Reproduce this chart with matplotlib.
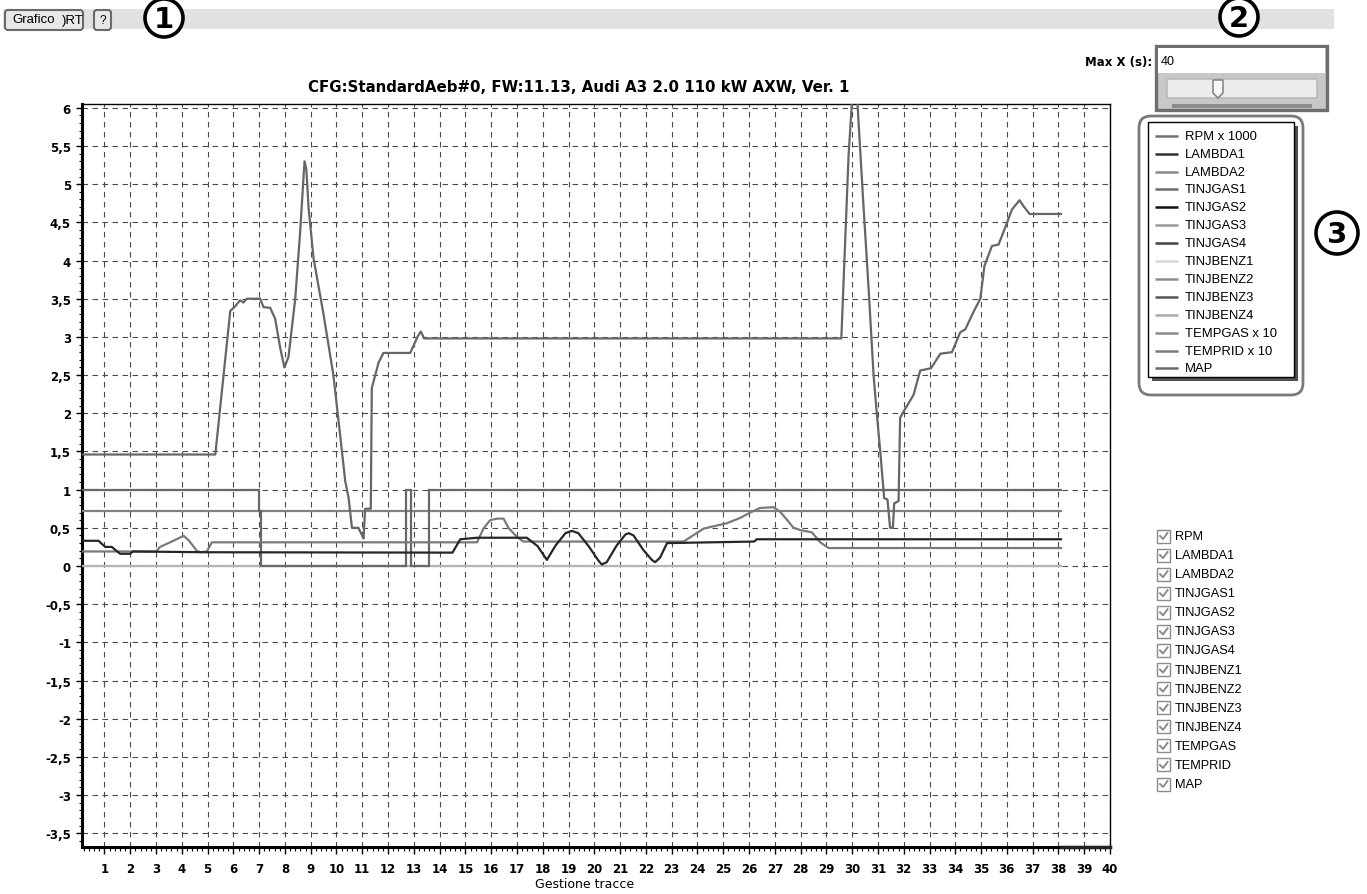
import matplotlib
matplotlib.use('Agg')
import matplotlib.pyplot as plt
from matplotlib.patches import FancyBboxPatch, Rectangle, Circle, Polygon
from matplotlib.ticker import MultipleLocator, FixedLocator
import numpy as np

# ---------------- data ----------------
title = "CFG:StandardAeb#0, FW:11.13, Audi A3 2.0 110 kW AXW, Ver. 1"
xlabel = "Gestione tracce"

xtick_values = list(range(1, 41))
ytick_values = [-3.5, -3, -2.5, -2, -1.5, -1, -0.5, 0, 0.5, 1, 1.5, 2, 2.5, 3, 3.5, 4, 4.5, 5, 5.5, 6]
ytick_labels = ["-3,5", "-3", "-2,5", "-2", "-1,5", "-1", "-0,5", "0", "0,5", "1", "1,5", "2", "2,5",
                "3", "3,5", "4", "4,5", "5", "5,5", "6"]

rpm_x = [0.13, 5.3, 5.88, 6.07, 6.26, 6.39, 6.52, 7.04, 7.17, 7.43, 7.62, 7.82, 7.98, 8.14, 8.40, 8.59,
         8.76, 8.83, 8.92, 9.11, 9.50, 9.88, 10.14, 10.34, 10.47, 10.60, 10.85, 10.98, 11.05, 11.11,
         11.33, 11.37, 11.63, 11.82, 12.86, 13.14, 13.27, 13.40, 29.58, 29.86, 30.05, 30.15, 30.25,
         30.44, 30.64, 30.83, 30.96, 31.09, 31.24, 31.37, 31.47, 31.58, 31.63, 31.80, 31.86, 31.99,
         32.38, 32.64, 33.06, 33.42, 33.87, 34.19, 34.39, 34.71, 34.97, 35.13, 35.42, 35.68, 36.0,
         36.2, 36.49, 36.65, 36.88, 38.1]
rpm_y = [1.46, 1.46, 3.34, 3.40, 3.48, 3.45, 3.50, 3.50, 3.39, 3.38, 3.24, 2.85, 2.60, 2.74, 3.50, 4.37,
         5.30, 5.20, 4.68, 4.03, 3.29, 2.50, 1.72, 1.11, 0.89, 0.50, 0.50, 0.41, 0.36, 0.75,
         0.75, 2.33, 2.66, 2.79, 2.79, 3.00, 3.07, 2.98, 2.98, 5.37, 6.40, 6.40, 5.80,
         4.71, 3.62, 2.50, 1.98, 1.50, 0.89, 0.87, 0.50, 0.50, 0.82, 0.85, 1.94, 2.02,
         2.24, 2.56, 2.59, 2.78, 2.80, 3.06, 3.10, 3.33, 3.50, 3.93, 4.19, 4.21, 4.49,
         4.67, 4.79, 4.71, 4.61, 4.61]

tinjgas1_x = [0.13, 6.98, 6.98, 7.06, 7.06, 12.68, 12.68, 12.9, 12.9, 13.6, 13.6, 38.1]
tinjgas1_y = [1.0, 1.0, 0.72, 0.72, 0.0, 0.0, 1.0, 1.0, 0.0, 0.0, 1.0, 1.0]

temprid_x = [0.13, 38.1]
temprid_y = [0.715, 0.715]

tinjbenz1_x = [0.13, 38.1]
tinjbenz1_y = [0.0, 0.0]

lambda1_x = [0.13, 0.77, 1.03, 1.28, 1.61, 2.0, 2.1, 5.0, 14.5, 14.8, 15.45, 17.38, 17.8, 18.16, 18.5,
             18.88, 19.13, 19.38, 19.8, 20.16, 20.29, 20.48, 20.87, 21.2, 21.33, 21.52, 21.9, 22.23,
             22.36, 22.55, 22.82, 26.2, 26.3, 38.1]
lambda1_y = [0.33, 0.33, 0.25, 0.25, 0.16, 0.16, 0.19, 0.18, 0.175, 0.35, 0.37, 0.37, 0.26, 0.08, 0.27,
             0.43, 0.46, 0.43, 0.25, 0.07, 0.02, 0.05, 0.27, 0.41, 0.43, 0.40, 0.21, 0.08,
             0.05, 0.11, 0.30, 0.32, 0.35, 0.35]

tempgas_x = [0.13, 3.0, 3.16, 3.55, 4.07, 4.26, 4.58, 4.71, 4.97, 5.17, 15.45, 15.7, 15.96, 16.22, 16.48,
             16.67, 17.0, 17.25, 23.46, 24.24, 25.14, 25.66, 26.05, 26.43, 26.95, 27.21, 27.73, 27.99,
             28.44, 28.76, 29.09, 38.1]
tempgas_y = [0.19, 0.19, 0.25, 0.31, 0.395, 0.34, 0.20, 0.18, 0.19, 0.31, 0.31, 0.49, 0.60, 0.62, 0.62,
             0.50, 0.38, 0.32, 0.32, 0.49, 0.56, 0.63, 0.70, 0.76, 0.77, 0.71, 0.50, 0.47,
             0.44, 0.31, 0.235, 0.235]

legend_names = ["RPM x 1000", "LAMBDA1", "LAMBDA2", "TINJGAS1", "TINJGAS2", "TINJGAS3", "TINJGAS4",
                "TINJBENZ1", "TINJBENZ2", "TINJBENZ3", "TINJBENZ4", "TEMPGAS x 10", "TEMPRID x 10", "MAP"]
legend_colors = ["#727272", "#303030", "#8a8a8a", "#6a6a6a", "#111111", "#9a9a9a", "#444444",
                 "#d6d6d6", "#8c8c8c", "#555555", "#aaaaaa", "#8a8a8a", "#7a7a7a", "#6a6a6a"]
check_names = ["RPM", "LAMBDA1", "LAMBDA2", "TINJGAS1", "TINJGAS2", "TINJGAS3", "TINJGAS4",
               "TINJBENZ1", "TINJBENZ2", "TINJBENZ3", "TINJBENZ4", "TEMPGAS", "TEMPRID", "MAP"]
max_x_value = "40"

# ---------------- figure ----------------
W, H = 1367, 895
fig = plt.figure(figsize=(W / 100, H / 100), dpi=100)
fig.patch.set_facecolor('white')

def fx(px):
    return px / W

def fy(py):
    return 1 - py / H

ax = fig.add_axes([fx(82), fy(848), fx(1110) - fx(82), fy(105) - fy(848)])
ax.set_xlim(0.13, 40)
ax.set_ylim(-3.68, 6.05)

LW = 1.6
ax.plot(tinjbenz1_x, tinjbenz1_y, color="#b4b4b4", lw=LW, solid_joinstyle='miter', zorder=3)
ax.plot(temprid_x, temprid_y, color="#808080", lw=LW, zorder=3)
ax.plot(tinjgas1_x, tinjgas1_y, color="#686868", lw=LW, solid_joinstyle='miter', zorder=4)
ax.plot(tempgas_x, tempgas_y, color="#7a7a7a", lw=LW, zorder=4)
ax.plot(lambda1_x, lambda1_y, color="#262626", lw=LW, zorder=5)
ax.plot(rpm_x, rpm_y, color="#666666", lw=LW, zorder=6)

# grid
ax.xaxis.set_major_locator(FixedLocator(xtick_values))
ax.set_xticklabels([str(v) for v in xtick_values])
ax.set_yticks(ytick_values)
ax.set_yticklabels(ytick_labels)
ax.grid(True, which='major', color="#4a4a4a", linestyle=(0, (5, 4)), linewidth=0.8)
ax.set_axisbelow(True)
ax.xaxis.set_minor_locator(MultipleLocator(0.2))
ax.yaxis.set_minor_locator(MultipleLocator(0.1))
ax.tick_params(axis='x', which='major', direction='out', length=5, width=1, pad=6,
               labelsize=8.5, colors='black')
ax.tick_params(axis='x', which='minor', direction='out', length=3, width=0.8)
ax.tick_params(axis='y', which='major', direction='out', length=4, width=1, pad=4, labelsize=8.5)
ax.tick_params(axis='y', which='minor', direction='out', length=2.5, width=0.8)
for lab in ax.get_xticklabels() + ax.get_yticklabels():
    lab.set_fontweight('bold')
    lab.set_family('DejaVu Sans')
for s in ['left', 'bottom']:
    ax.spines[s].set_linewidth(2.2)
for s in ['right', 'top']:
    ax.spines[s].set_linewidth(1.0)
# dark scroll bar segment at the bottom after data end
ax.plot([rpm_x[-1], 40], [-3.68, -3.68], color="#222222", lw=2.5, clip_on=False, zorder=7)

fig.text(fx(579), fy(88), title, ha='center', va='center', fontsize=10.8,
         fontweight='bold', family='DejaVu Sans')
fig.text(fx(585), fy(885), xlabel, ha='center', va='center', fontsize=9,
         family='Liberation Sans Narrow')

# ---------------- UI overlay (pixel coordinates) ----------------
ui = fig.add_axes([0, 0, 1, 1], zorder=10)
ui.set_xlim(0, W)
ui.set_ylim(H, 0)
ui.axis('off')
ui.patch.set_alpha(0)

# top gray band
ui.add_patch(Rectangle((3, 10), 1331, 20, facecolor="#e1e1e1", edgecolor='none'))
# buttons
ui.add_patch(FancyBboxPatch((5, 11), 78, 20, boxstyle="round,pad=0,rounding_size=3",
                            facecolor="#e8e8e8", edgecolor="#6a6a6a", lw=1.5))
ui.text(12, 20, "Grafico", fontsize=9.5, family='Liberation Sans', va='center', ha='left')
ui.text(62, 21, ")RT", fontsize=9.5, family='Liberation Sans', va='center', ha='left')
ui.add_patch(FancyBboxPatch((94, 11), 17, 20, boxstyle="round,pad=0,rounding_size=3",
                            facecolor="#e8e8e8", edgecolor="#6a6a6a", lw=1.5))
ui.text(102.5, 21, "?", fontsize=8.5, family='Liberation Sans', va='center', ha='center')

def circled(cx, cy, r, label):
    ui.add_patch(Circle((cx, cy), r, facecolor='white', edgecolor='black', lw=2.6))
    ui.text(cx, cy + 1, label, fontsize=21, fontweight='bold', family='DejaVu Sans',
            ha='center', va='center')

circled(164, 19, 19, "1")
circled(1239, 18, 19, "2")
circled(1337, 234, 21, "3")

# Max X widget
ui.text(1152, 62, "Max X (s):", fontsize=8.5, fontweight='bold', family='DejaVu Sans',
        ha='right', va='center')
ui.add_patch(Rectangle((1156, 47), 171, 64, facecolor="#c8c8c8", edgecolor="#6e6e6e", lw=2.4))
ui.add_patch(Rectangle((1158, 49), 167, 25, facecolor="white", edgecolor='none'))
ui.text(1161, 62, max_x_value, fontsize=9, family='Liberation Sans', ha='left', va='center')
ui.add_patch(FancyBboxPatch((1167, 80), 150, 19, boxstyle="round,pad=0,rounding_size=2",
                            facecolor="#ececec", edgecolor="#b5b5b5", lw=1))
ui.add_patch(Polygon([(1213, 81), (1223, 81), (1223, 94), (1218, 99), (1213, 94)], closed=True,
                     facecolor="#f6f6f6", edgecolor="#777777", lw=1))
ui.add_patch(Rectangle((1172, 105), 140, 4, facecolor="#8c8c8c", edgecolor='none'))

# legend panel
ui.add_patch(FancyBboxPatch((1139, 117), 164, 279, boxstyle="round,pad=0,rounding_size=12",
                            facecolor='white', edgecolor="#7a7a7a", lw=2))
ui.add_patch(Rectangle((1152, 127), 146, 255, facecolor="#333333", edgecolor='none', alpha=0.85))
ui.add_patch(Rectangle((1148, 123), 146, 255, facecolor='white', edgecolor='black', lw=1))
for i, (name, col) in enumerate(zip(legend_names, legend_colors)):
    yy = 136.7 + i * 17.9
    ui.plot([1155, 1178], [yy, yy], color=col, lw=1.8, solid_capstyle='butt')
    ui.text(1185, yy, name, fontsize=9.4, family='Liberation Sans', ha='left', va='center')

# checkbox list
for i, name in enumerate(check_names):
    yy = 537 + i * 19.08
    ui.add_patch(Rectangle((1157, yy - 6.5), 13, 13, facecolor='white', edgecolor="#8a8a8a", lw=1))
    ui.plot([1160, 1163, 1167.5], [yy, yy + 3, yy - 3], color="#8a8a8a", lw=1.4)
    ui.text(1175, yy, name, fontsize=9.2, family='Liberation Sans', ha='left', va='center')

fig.savefig("out.png", dpi=100, facecolor='white')
